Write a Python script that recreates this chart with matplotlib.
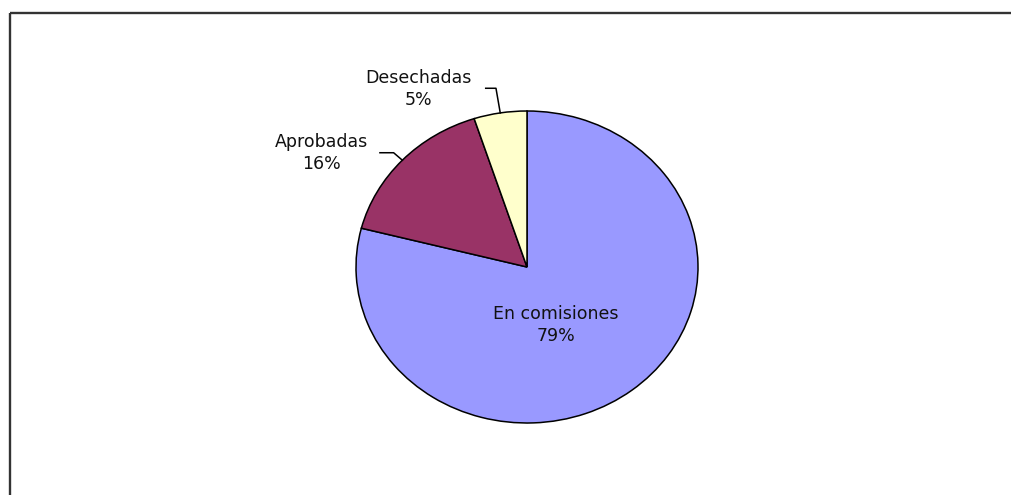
import numpy as np
import matplotlib
matplotlib.use("Agg")
import matplotlib.pyplot as plt
from matplotlib.lines import Line2D

"""Chart data"""
categorias = ["En comisiones", "Aprobadas", "Desechadas"]
porcentajes = [79, 16, 5]
colores = ["#9999FF", "#993366", "#FFFFCC"]

"""Label layout (pie data coords, radius 1)"""
pos_texto = [(0.17, -0.37), (-1.20, 0.73), (-0.635, 1.14)]
radio_codo = [None, 1.07, 1.16]
largo_cola = [None, 0.08, 0.06]

plt.rcParams["font.family"] = ["DejaVu Sans"]

fig = plt.figure(figsize=(10.11, 4.95), dpi=100)
fig.patch.set_facecolor("white")

"""Frame lines of the original sheet"""
W, H = 1011, 495
fig.add_artist(Line2D([9.5 / W, 1.0], [1 - 12.5 / H, 1 - 12.5 / H],
                      color="#333333", lw=1.7, solid_capstyle="butt"))
fig.add_artist(Line2D([9.5 / W, 9.5 / W], [0.0, 1 - 12.5 / H],
                      color="#333333", lw=1.7, solid_capstyle="butt"))

ax = fig.add_axes([356 / W, 1 - 423 / H, 342 / W, 312 / H])
wedges, _ = ax.pie(porcentajes, colors=colores, startangle=90, counterclock=False,
                   wedgeprops=dict(edgecolor="black", linewidth=1.1))
ax.set_aspect("auto")
ax.set_xlim(-1, 1)
ax.set_ylim(-1, 1)
ax.axis("off")

for i, w in enumerate(wedges):
    texto = "%s\n%d%%" % (categorias[i], porcentajes[i])
    tx, ty = pos_texto[i]
    ax.text(tx, ty, texto, ha="center", va="center", fontsize=12.5,
            color="#111111", linespacing=1.3, clip_on=False)
    if radio_codo[i] is not None:
        th = np.deg2rad((w.theta1 + w.theta2) / 2)
        bx, by = np.cos(th), np.sin(th)
        ex, ey = radio_codo[i] * bx, radio_codo[i] * by
        ax.add_line(Line2D([bx, ex, ex - largo_cola[i]], [by, ey, ey],
                           color="black", lw=1.1, clip_on=False))

fig.savefig("out.png", dpi=100, facecolor="white")
